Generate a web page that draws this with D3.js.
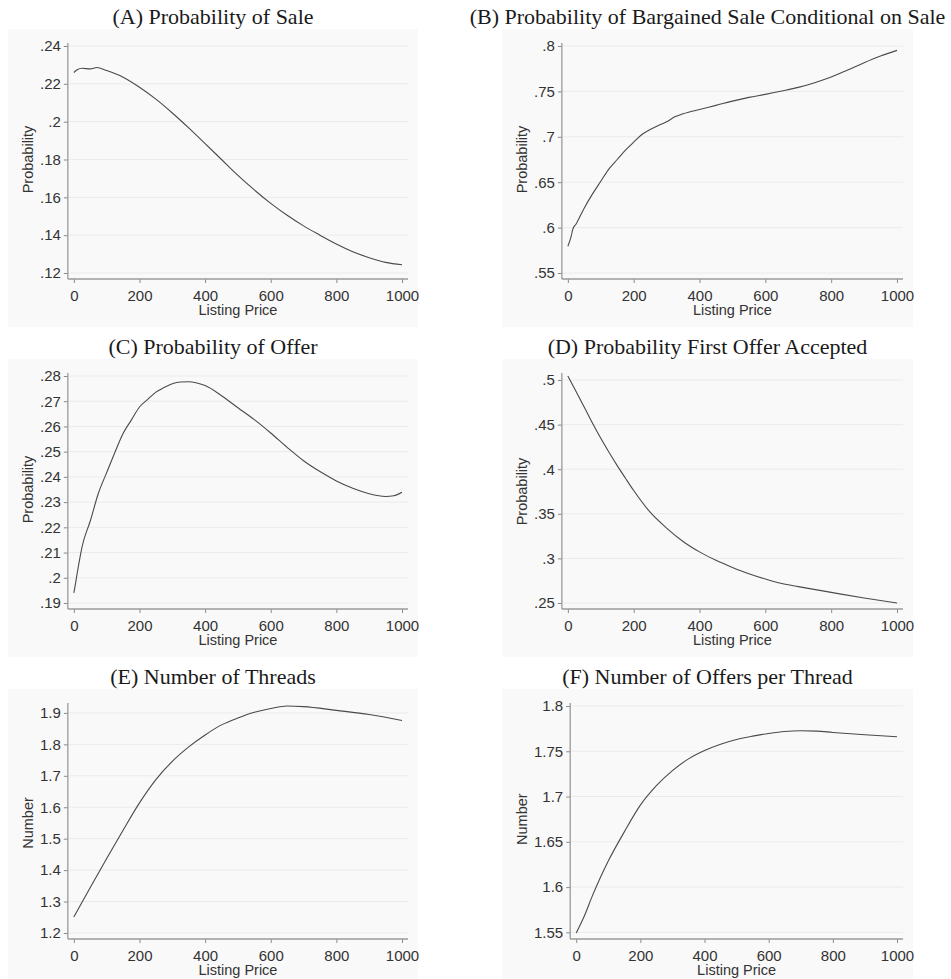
<!DOCTYPE html>
<html>
<head>
<meta charset="utf-8">
<script src="https://cdn.jsdelivr.net/npm/d3@7"></script>
<style>
  html, body { margin: 0; padding: 0; background: #ffffff; }
  svg { display: block; }
</style>
</head>
<body>
<svg id="chart" width="951" height="979"></svg>
<script>
// ---------------- DATA ----------------
const xTicks = [0, 200, 400, 600, 800, 1000];
const xTickLabels = ["0", "200", "400", "600", "800", "1000"];

const titles = [
  "(A) Probability of Sale",
  "(B) Probability of Bargained Sale Conditional on Sale",
  "(C) Probability of Offer",
  "(D) Probability First Offer Accepted",
  "(E) Number of Threads",
  "(F) Number of Offers per Thread"
];
const yTitles = ["Probability", "Probability", "Probability", "Probability", "Number", "Number"];
const xTitle = "Listing Price";

// (A)
const priceA = [0, 10, 25, 50, 70, 100, 150, 200, 250, 300, 350, 400, 450, 500, 550, 600, 650, 700, 750, 800, 850, 900, 950, 1000];
const probSale = [0.2260, 0.2274, 0.2282, 0.2279, 0.2286, 0.2270, 0.2235, 0.2182, 0.2119, 0.2046, 0.1967, 0.1884, 0.1800, 0.1716, 0.1639, 0.1568, 0.1505, 0.1449, 0.1400, 0.1353, 0.1312, 0.1281, 0.1256, 0.1244];
const yTicksA = [0.12, 0.14, 0.16, 0.18, 0.20, 0.22, 0.24];
const yLabelsA = [".12", ".14", ".16", ".18", ".2", ".22", ".24"];

// (B)
const priceB = [0, 10, 15, 25, 50, 75, 100, 125, 150, 175, 200, 225, 250, 275, 300, 325, 350, 400, 450, 500, 550, 600, 650, 700, 750, 800, 850, 900, 950, 1000];
const probBargained = [0.5794, 0.5904, 0.5980, 0.6040, 0.6217, 0.6371, 0.6510, 0.6647, 0.6750, 0.6853, 0.6941, 0.7025, 0.7080, 0.7125, 0.7165, 0.7220, 0.7254, 0.7301, 0.7346, 0.7393, 0.7434, 0.7467, 0.7504, 0.7544, 0.7596, 0.7658, 0.7735, 0.7816, 0.7890, 0.7952];
const yTicksB = [0.55, 0.60, 0.65, 0.70, 0.75, 0.80];
const yLabelsB = [".55", ".6", ".65", ".7", ".75", ".8"];

// (C)
const priceC = [0, 5, 10, 20, 25, 50, 75, 100, 125, 150, 175, 200, 225, 250, 275, 300, 325, 350, 375, 400, 450, 500, 550, 600, 650, 700, 750, 800, 850, 900, 950, 975, 1000];
const probOffer = [0.1940, 0.1977, 0.2017, 0.2090, 0.2123, 0.2225, 0.2336, 0.2417, 0.2497, 0.2572, 0.2625, 0.2677, 0.2707, 0.2736, 0.2754, 0.2769, 0.2776, 0.2777, 0.2772, 0.2762, 0.2722, 0.2674, 0.2627, 0.2574, 0.2517, 0.2464, 0.2421, 0.2384, 0.2355, 0.2333, 0.2322, 0.2325, 0.2339];
const yTicksC = [0.19, 0.20, 0.21, 0.22, 0.23, 0.24, 0.25, 0.26, 0.27, 0.28];
const yLabelsC = [".19", ".2", ".21", ".22", ".23", ".24", ".25", ".26", ".27", ".28"];

// (D)
const priceD = [0, 25, 50, 75, 100, 125, 150, 175, 200, 250, 300, 350, 400, 450, 500, 550, 600, 650, 700, 800, 900, 1000];
const probFirstAccepted = [0.5045, 0.4870, 0.4694, 0.4515, 0.4347, 0.4190, 0.4040, 0.3899, 0.3761, 0.3518, 0.3340, 0.3190, 0.3073, 0.2978, 0.2899, 0.2828, 0.2769, 0.2719, 0.2684, 0.2619, 0.2556, 0.2500];
const yTicksD = [0.25, 0.30, 0.35, 0.40, 0.45, 0.50];
const yLabelsD = [".25", ".3", ".35", ".4", ".45", ".5"];

// (E)
const priceE = [0, 50, 100, 150, 200, 250, 300, 350, 400, 450, 500, 550, 600, 650, 700, 800, 900, 1000];
const numThreads = [1.251, 1.345, 1.437, 1.527, 1.614, 1.688, 1.746, 1.792, 1.830, 1.862, 1.884, 1.902, 1.914, 1.922, 1.920, 1.908, 1.895, 1.876];
const yTicksE = [1.2, 1.3, 1.4, 1.5, 1.6, 1.7, 1.8, 1.9];
const yLabelsE = ["1.2", "1.3", "1.4", "1.5", "1.6", "1.7", "1.8", "1.9"];

// (F)
const priceF = [0, 25, 50, 75, 100, 150, 200, 250, 300, 350, 400, 450, 500, 550, 600, 650, 700, 750, 800, 900, 1000];
const offersPerThread = [1.5493, 1.5678, 1.5900, 1.6103, 1.6288, 1.6610, 1.6905, 1.7120, 1.7286, 1.7416, 1.7508, 1.7578, 1.7630, 1.7667, 1.7697, 1.7719, 1.7726, 1.7723, 1.7708, 1.7682, 1.7660];
const yTicksF = [1.55, 1.60, 1.65, 1.70, 1.75, 1.80];
const yLabelsF = ["1.55", "1.6", "1.65", "1.7", "1.75", "1.8"];

// ---------------- BUILD ----------------
const panelData = [
  { xs: priceA, ys: probSale, ticks: yTicksA, labels: yLabelsA },
  { xs: priceB, ys: probBargained, ticks: yTicksB, labels: yLabelsB },
  { xs: priceC, ys: probOffer, ticks: yTicksC, labels: yLabelsC },
  { xs: priceD, ys: probFirstAccepted, ticks: yTicksD, labels: yLabelsD },
  { xs: priceE, ys: numThreads, ticks: yTicksE, labels: yLabelsE },
  { xs: priceF, ys: offersPerThread, ticks: yTicksF, labels: yLabelsF }
];

const SANS = "'Liberation Sans', Arial, Helvetica, sans-serif";
const SERIF = "'Liberation Serif', 'Times New Roman', serif";
const colLeft = [8, 502];
const colRight = [418, 913];
const rowTop = [29, 359, 689];
const bgHeight = 298;

const svg = d3.select("#chart");

// measurer for label widths
const meas = svg.append("text").attr("font-family", SANS).attr("font-size", 15).attr("visibility", "hidden");
function textWidth(s) { meas.text(s); return meas.node().getComputedTextLength(); }

panelData.forEach((p, i) => {
  const col = i % 2, row = Math.floor(i / 2);
  const L = colLeft[col], R = colRight[col], T = rowTop[row];
  const g = svg.append("g");

  // plot-region background
  g.append("rect").attr("x", L).attr("y", T).attr("width", R - L).attr("height", bgHeight).attr("fill", "#f9f9f9");

  // title
  g.append("text")
    .attr("x", (L + R) / 2).attr("y", T - 5)
    .attr("text-anchor", "middle")
    .attr("font-family", SERIF).attr("font-size", 22).attr("fill", "#1a1a1a")
    .text(titles[i]);

  const maxW = d3.max(p.labels, s => textWidth(s));
  const axisX = L + 39 + maxW;
  const axisY = T + 250;
  const xScale = d3.scaleLinear().domain([0, 1000]).range([axisX + 6, R - 16]);
  const yMin = Math.min(d3.min(p.ticks), d3.min(p.ys));
  const yMax = Math.max(d3.max(p.ticks), d3.max(p.ys));
  const yScale = d3.scaleLinear().domain([yMin, yMax]).range([T + 244, T + 17]);

  // gridlines
  g.selectAll(".grid").data(p.ticks).enter().append("line")
    .attr("x1", axisX).attr("x2", R - 10)
    .attr("y1", d => yScale(d)).attr("y2", d => yScale(d))
    .attr("stroke", "#ebebeb").attr("stroke-width", 1);

  // y axis
  const yAxis = d3.axisLeft(yScale).tickValues(p.ticks)
    .tickFormat((d, k) => p.labels[k]).tickSize(4).tickPadding(3);
  const ya = g.append("g").attr("transform", `translate(${axisX},0)`).call(yAxis);
  ya.select(".domain").remove();
  ya.append("line").attr("x1", 0).attr("x2", 0).attr("y1", T + 14).attr("y2", axisY)
    .attr("stroke", "#9a9a9a").attr("stroke-width", 1.3);
  ya.selectAll(".tick line").attr("stroke", "#8a8a8a");
  ya.selectAll(".tick text").attr("font-family", SANS).attr("font-size", 15).attr("fill", "#333");

  // x axis
  const xAxis = d3.axisBottom(xScale).tickValues(xTicks)
    .tickFormat((d, k) => xTickLabels[k]).tickSize(4).tickPadding(7);
  const xa = g.append("g").attr("transform", `translate(0,${axisY})`).call(xAxis);
  xa.select(".domain").remove();
  xa.append("line").attr("x1", axisX).attr("x2", R - 10).attr("y1", 0).attr("y2", 0)
    .attr("stroke", "#9a9a9a").attr("stroke-width", 1.3);
  xa.selectAll(".tick line").attr("stroke", "#8a8a8a");
  xa.selectAll(".tick text").attr("font-family", SANS).attr("font-size", 15).attr("fill", "#333");

  // axis titles
  g.append("text")
    .attr("x", (xScale.range()[0] + xScale.range()[1]) / 2).attr("y", T + 286)
    .attr("text-anchor", "middle")
    .attr("font-family", SANS).attr("font-size", 14.5).attr("fill", "#333")
    .text(xTitle);
  const yMid = (yScale(d3.min(p.ticks)) + yScale(d3.max(p.ticks))) / 2;
  g.append("text")
    .attr("transform", `translate(${L + 25},${yMid}) rotate(-90)`)
    .attr("text-anchor", "middle")
    .attr("font-family", SANS).attr("font-size", 14.5).attr("fill", "#333")
    .text(yTitles[i]);

  // line
  const line = d3.line().x(d => xScale(d[0])).y(d => yScale(d[1])).curve(d3.curveMonotoneX);
  g.append("path")
    .datum(p.xs.map((x, k) => [x, p.ys[k]]))
    .attr("d", line)
    .attr("fill", "none").attr("stroke", "#4a4a4a").attr("stroke-width", 1.1);
});
meas.remove();
</script>
</body>
</html>
